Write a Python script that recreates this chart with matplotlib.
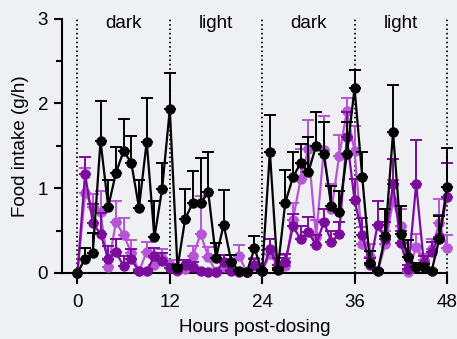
import numpy as np
import matplotlib
matplotlib.use('Agg')
import matplotlib.pyplot as plt
from matplotlib.ticker import MultipleLocator

plt.rcParams['font.family'] = ['Liberation Sans', 'DejaVu Sans']

hours = list(range(0, 49))

# black group
black_mean = [0, 0.17, 0.24, 1.56, 0.78, 1.18, 1.44, 1.30, 0.77, 1.55, 0.42, 0.99, 1.93,
              0.06, 0.64, 0.83, 0.83, 0.95, 0.18, 0.57, 0.13, 0.02, 0.01, 0.29, 0.02,
              1.43, 0.03, 0.83, 1.13, 1.30, 1.19, 1.50, 1.40, 0.79, 0.72, 1.40, 2.18,
              1.13, 0.12, 0.02, 0.44, 1.66, 0.46, 0.19, 0.07, 0.07, 0.02, 0.40, 1.02]
black_err = [0, 0.12, 0.23, 0.47, 0.32, 0.31, 0.38, 0.32, 0.33, 0.51, 0.43, 0.31, 0.43,
             0.03, 0.35, 0.37, 0.53, 0.48, 0.17, 0.41, 0.08, 0.02, 0.02, 0.15, 0.02,
             0.44, 0.03, 0.38, 0.30, 0.22, 0.41, 0.40, 0.38, 0.24, 0.25, 0.38, 0.22,
             0.30, 0.14, 0.02, 0.31, 0.56, 0.33, 0.20, 0.05, 0.04, 0.02, 0.27, 0.46]

# dark purple group
dark_mean = [0, 1.17, 0.59, 0.46, 0.17, 0.25, 0.08, 0.16, 0.02, 0.02, 0.20, 0.14, 0.06,
             0.03, 0.09, 0.07, 0.02, 0.01, 0.01, 0.13, 0.02, 0.01, 0.01, 0.10, 0.02,
             0.28, 0.10, 0.13, 0.55, 0.40, 0.48, 0.33, 0.60, 0.37, 0.46, 1.60, 0.86,
             0.45, 0.10, 0.57, 0.40, 1.05, 0.35, 0.05, 1.05, 0.12, 0.25, 0.43, 0.90]
dark_err = [0, 0.20, 0.22, 0.25, 0.15, 0.15, 0.12, 0.12, 0.02, 0.03, 0.10, 0.10, 0.05,
            0.03, 0.06, 0.06, 0.02, 0.01, 0.01, 0.08, 0.02, 0.01, 0.02, 0.06, 0.02,
            0.12, 0.08, 0.10, 0.15, 0.15, 0.18, 0.12, 0.16, 0.12, 0.14, 0.30, 0.25,
            0.20, 0.08, 0.28, 0.20, 0.30, 0.15, 0.04, 0.52, 0.08, 0.12, 0.25, 0.40]

# light purple group
light_mean = [0, 0.94, 0.78, 0.72, 0.07, 0.60, 0.45, 0.24, 0.02, 0.25, 0.10, 0.18, 0.09,
              0.02, 0.05, 0.20, 0.46, 0.19, 0.01, 0.07, 0.07, 0.20, 0.01, 0.08, 0.02,
              0.22, 0.09, 0.08, 0.63, 1.11, 1.46, 0.42, 1.45, 0.75, 1.38, 1.91, 1.44,
              0.34, 0.19, 0.02, 0.34, 0.85, 0.56, 0.01, 0.31, 0.15, 0.28, 0.59, 0.30]
light_err = [0, 0.30, 0.15, 0.25, 0.08, 0.25, 0.20, 0.15, 0.03, 0.12, 0.08, 0.10, 0.06,
             0.03, 0.04, 0.12, 0.45, 0.12, 0.01, 0.10, 0.08, 0.13, 0.02, 0.10, 0.02,
             0.18, 0.12, 0.10, 0.20, 0.35, 0.35, 0.20, 0.40, 0.30, 0.25, 0.15, 0.30,
             0.20, 0.15, 0.02, 0.15, 0.25, 0.20, 0.02, 0.15, 0.08, 0.12, 0.28, 0.15]

phase_edges = [0, 12, 24, 36, 48]
phase_labels = ['dark', 'light', 'dark', 'light']

bg = '#eff0f3'
fig = plt.figure(figsize=(4.57, 3.39), dpi=100, facecolor=bg)
ax = fig.add_axes([0.1357, 0.1947, 0.8423, 0.750], facecolor=bg)


def draw_group(mean, err, color, z):
	zeros = np.zeros(len(err))
	ax.errorbar(hours, mean, yerr=[zeros, err], color=color, marker='o', markersize=6.5,
				linewidth=1.6, elinewidth=1.4, capsize=4, capthick=1.4, zorder=z, clip_on=False)


for x in phase_edges:
	ax.plot([x, x], [0, 3], color='black', linestyle=':', linewidth=1.2, zorder=1, clip_on=False)
for i, lab in enumerate(phase_labels):
	ax.text((phase_edges[i] + phase_edges[i + 1]) / 2, 2.94, lab, ha='center', va='center', fontsize=13.5)

draw_group(light_mean, light_err, '#b656d6', 3)
draw_group(dark_mean, dark_err, '#7b0c9c', 4)
draw_group(black_mean, black_err, 'black', 5)

ax.set_xlim(-2, 48)
ax.set_ylim(0, 3)
ax.set_xticks(phase_edges)
ax.yaxis.set_major_locator(MultipleLocator(1))
ax.yaxis.set_minor_locator(MultipleLocator(0.5))
ax.spines['top'].set_visible(False)
ax.spines['right'].set_visible(False)
for s in ['left', 'bottom']:
	ax.spines[s].set_linewidth(1.5)
ax.tick_params(axis='x', length=8, width=1.5, labelsize=13.5, pad=7)
ax.tick_params(axis='y', which='major', length=6, width=1.5, labelsize=13.5, pad=4)
ax.tick_params(axis='y', which='minor', length=4, width=1.5)
ax.set_xlabel('Hours post-dosing', fontsize=13.5, labelpad=6)
ax.set_ylabel('Food intake (g/h)', fontsize=13.5, labelpad=6)

fig.savefig('out.png', dpi=100, facecolor=bg)
